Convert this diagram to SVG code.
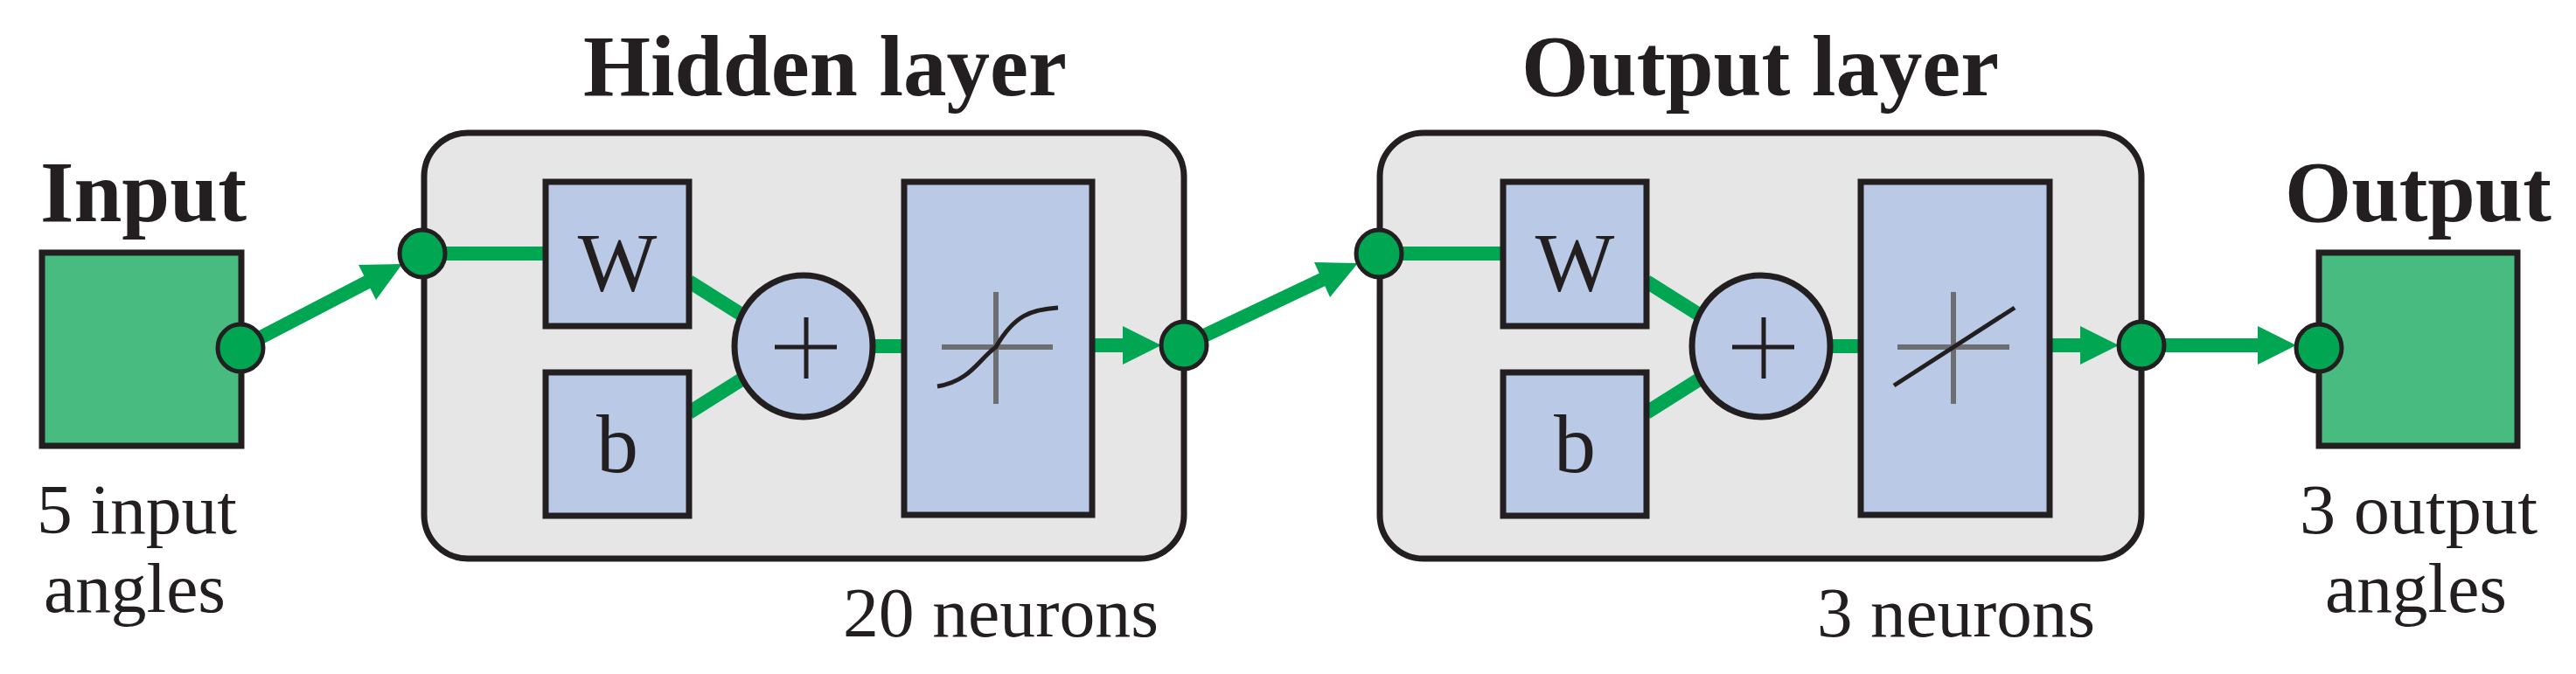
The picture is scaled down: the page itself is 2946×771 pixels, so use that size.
<svg xmlns="http://www.w3.org/2000/svg" width="2946" height="771" viewBox="0 0 2946 771">
<style>
.t{font-family:"Liberation Serif",serif;fill:#231F20}
.b{font-weight:bold;font-size:100px}
.r{font-size:80px}
.layer{fill:#E6E6E6;stroke:#231F20;stroke-width:7}
.blk{fill:#BAC9E6;stroke:#231F20;stroke-width:7}
.io{fill:#48BB80;stroke:#231F20;stroke-width:7}
.dot{fill:#00A651;stroke:#231F20;stroke-width:5}
.ln{stroke:#00A651;stroke-width:16;fill:none}
.hd{fill:#00A651}
.ax{stroke:#6D6E71;stroke-width:6}
.cv{stroke:#231F20;stroke-width:5;fill:none}
</style>
<rect width="2946" height="771" fill="#fff"/>
<g id="labels">
<text class="t b" x="46" y="253" textLength="236" lengthAdjust="spacingAndGlyphs">Input</text>
<text class="t b" x="667" y="109" textLength="553" lengthAdjust="spacingAndGlyphs">Hidden layer</text>
<text class="t b" x="1740" y="109" textLength="546" lengthAdjust="spacingAndGlyphs">Output layer</text>
<text class="t b" x="2613" y="253" textLength="305" lengthAdjust="spacingAndGlyphs">Output</text>
<text class="t r" x="42" y="610" textLength="229" lengthAdjust="spacingAndGlyphs">5 input</text>
<text class="t r" x="50" y="700" textLength="208" lengthAdjust="spacingAndGlyphs">angles</text>
<text class="t r" x="964" y="728" textLength="361" lengthAdjust="spacingAndGlyphs">20 neurons</text>
<text class="t r" x="2078" y="728" textLength="318" lengthAdjust="spacingAndGlyphs">3 neurons</text>
<text class="t r" x="2630" y="610" textLength="272" lengthAdjust="spacingAndGlyphs">3 output</text>
<text class="t r" x="2659" y="700" textLength="208" lengthAdjust="spacingAndGlyphs">angles</text>
</g>
<g id="input"><rect class="io" x="48" y="289" width="228" height="221"/></g>
<g id="output"><rect class="io" x="2652" y="289" width="227" height="221"/></g>
<g id="hidden">
<rect class="layer" x="485" y="152" width="869" height="487" rx="50"/>
</g>
<g id="outlayer">
<rect class="layer" x="1578" y="152" width="871" height="487" rx="50"/>
</g>
<g id="connectors">
<line class="ln" x1="275" y1="398" x2="425" y2="320"/>
<polygon class="hd" points="460,302 430,343 410,303"/>
<line class="ln" x1="483" y1="290" x2="625" y2="290"/>
<line class="ln" x1="788" y1="322" x2="880" y2="380"/>
<line class="ln" x1="788" y1="472" x2="880" y2="414"/>
<line class="ln" x1="995" y1="396" x2="1035" y2="396"/>
<line class="ln" x1="1249" y1="395" x2="1290" y2="395"/>
<polygon class="hd" points="1328,395 1284,373 1284,417"/>
<line class="ln" x1="1354" y1="395" x2="1516" y2="318"/>
<polygon class="hd" points="1553,301 1521,340 1503,300"/>
<line class="ln" x1="1577" y1="290" x2="1720" y2="290"/>
<line class="ln" x1="1883" y1="322" x2="1975" y2="380"/>
<line class="ln" x1="1883" y1="472" x2="1975" y2="414"/>
<line class="ln" x1="2090" y1="396" x2="2129" y2="396"/>
<line class="ln" x1="2344" y1="395" x2="2385" y2="395"/>
<polygon class="hd" points="2423,395 2379,373 2379,417"/>
<line class="ln" x1="2449" y1="395" x2="2588" y2="395"/>
<polygon class="hd" points="2626,395 2582,373 2582,417"/>
</g>
<g id="hW"><rect class="blk" x="624" y="208" width="164" height="165"/><text class="t" x="706" y="333" font-size="96" text-anchor="middle">W</text></g>
<g id="hb"><rect class="blk" x="624" y="426" width="164" height="164"/><text class="t" x="706" y="540" font-size="96" text-anchor="middle">b</text></g>
<g id="hsum"><ellipse class="blk" cx="919" cy="396" rx="79" ry="81"/><path class="cv" d="M886,397H957M922,363V433"/></g>
<g id="htf"><rect class="blk" x="1034" y="208" width="215" height="381"/><path class="ax" d="M1077,397H1204M1139,334V462"/><path class="cv" d="M1072,442C1110,436 1120,410 1139,397C1160,360 1180,354 1210,352"/></g>
<g id="oW"><rect class="blk" x="1719" y="208" width="164" height="165"/><text class="t" x="1801" y="333" font-size="96" text-anchor="middle">W</text></g>
<g id="ob"><rect class="blk" x="1719" y="426" width="164" height="164"/><text class="t" x="1801" y="540" font-size="96" text-anchor="middle">b</text></g>
<g id="osum"><ellipse class="blk" cx="2014" cy="396" rx="79" ry="81"/><path class="cv" d="M1981,397H2052M2017,363V433"/></g>
<g id="otf"><rect class="blk" x="2128" y="208" width="216" height="381"/><path class="ax" d="M2170,397H2298M2234,334V462"/><path class="cv" d="M2166,441L2304,352"/></g>
<g id="dots">
<ellipse class="dot" cx="275" cy="398" rx="26" ry="27"/>
<ellipse class="dot" cx="483" cy="290" rx="26" ry="27"/>
<ellipse class="dot" cx="1354" cy="395" rx="26" ry="27"/>
<ellipse class="dot" cx="1577" cy="290" rx="26" ry="27"/>
<ellipse class="dot" cx="2449" cy="395" rx="26" ry="27"/>
<ellipse class="dot" cx="2652" cy="398" rx="26" ry="27"/>
</g>
</svg>
